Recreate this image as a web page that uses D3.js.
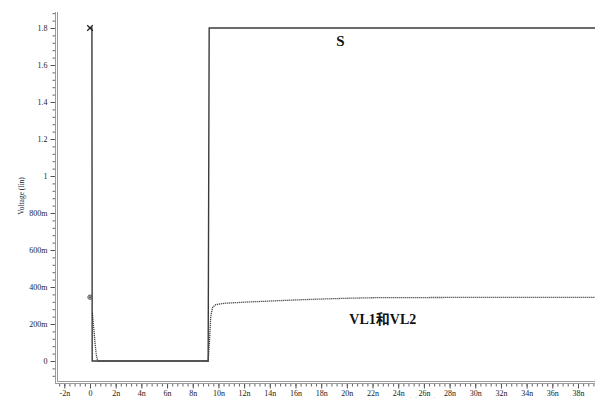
<!DOCTYPE html>
<html>
<head>
<meta charset="utf-8">
<script src="https://cdn.jsdelivr.net/npm/d3@7"></script>
<style>
  body { margin: 0; background: #fff; }
  text { font-family: "Liberation Serif", "DejaVu Serif", serif; }
</style>
</head>
<body>
<div id="chart"></div>
<script>
// time in ns, voltage in V
var s_time = [0, 0.15, 0.17, 9.2, 9.28, 39.6];
var s_volt = [1.8, 1.8, 0, 0, 1.8, 1.8];

var vl_time = [0.18, 0.3, 0.4, 0.5, 0.6, 9.2, 9.3, 9.4, 9.55, 9.8, 10.5, 12, 14, 16, 18, 20, 22, 26, 30, 34, 39.6];
var vl_volt = [0.26, 0.17, 0.09, 0.03, 0.0, 0.0, 0.1, 0.24, 0.29, 0.305, 0.312, 0.318, 0.324, 0.33, 0.335, 0.339, 0.342, 0.343, 0.344, 0.344, 0.344];

var y_ticks = [0, 0.2, 0.4, 0.6, 0.8, 1, 1.2, 1.4, 1.6, 1.8];
var y_tick_labels = ["0", "200m", "400m", "600m", "800m", "1", "1.2", "1.4", "1.6", "1.8"];
var x_ticks = d3.range(-2, 39, 2);
var x_tick_labels = x_ticks.map(function(d) { return d === 0 ? "0" : d + "n"; });

var width = 595, height = 398;
var x = d3.scaleLinear().domain([0, 38]).range([90, 578]);
var y = d3.scaleLinear().domain([0, 1.8]).range([361, 28]);

var axisX = 56, axisY = 382;
var topY = 12, rightX = 595;

var svg = d3.select("#chart").append("svg")
    .attr("width", width).attr("height", height);

// frame: double gray lines
svg.append("line").attr("x1", axisX - 0.5).attr("x2", axisX - 0.5).attr("y1", topY).attr("y2", axisY + 2)
    .attr("stroke", "#9a9a9a").attr("stroke-width", 1);
svg.append("line").attr("x1", axisX + 1.5).attr("x2", axisX + 1.5).attr("y1", topY).attr("y2", axisY)
    .attr("stroke", "#9a9a9a").attr("stroke-width", 1);
svg.append("line").attr("x1", axisX - 0.5).attr("x2", rightX).attr("y1", axisY + 1.5).attr("y2", axisY + 1.5)
    .attr("stroke", "#9a9a9a").attr("stroke-width", 1);
svg.append("line").attr("x1", axisX + 1.5).attr("x2", rightX).attr("y1", axisY - 0.5).attr("y2", axisY - 0.5)
    .attr("stroke", "#9a9a9a").attr("stroke-width", 1);

// y axis
var yMinor = d3.range(-0.08, 1.9, 0.04).filter(function(v) { return y(v) >= topY && y(v) <= axisY; });
svg.append("g").attr("transform", "translate(" + (axisX - 1) + ",0)")
    .call(d3.axisLeft(y).tickValues(yMinor).tickSize(2.5).tickFormat(""))
    .call(function(g) { g.select(".domain").remove(); g.selectAll("line").attr("stroke", "#666"); });
svg.append("g").attr("transform", "translate(" + (axisX - 1) + ",0)")
    .call(d3.axisLeft(y).tickValues(y_ticks).tickSize(4.5).tickPadding(3)
        .tickFormat(function(d, i) { return y_tick_labels[i]; }))
    .call(function(g) {
        g.select(".domain").remove();
        g.selectAll("line").attr("stroke", "#555");
        g.selectAll("text").attr("font-family", "Liberation Serif").attr("font-size", 8).attr("fill", "#222");
    });

// x axis
var xMinor = d3.range(-2.4, 39.6, 0.4).filter(function(v) { return x(v) >= axisX + 2 && x(v) <= rightX; });
svg.append("g").attr("transform", "translate(0," + (axisY + 2) + ")")
    .call(d3.axisBottom(x).tickValues(xMinor).tickSize(2.5).tickFormat(""))
    .call(function(g) { g.select(".domain").remove(); g.selectAll("line").attr("stroke", "#666"); });
svg.append("g").attr("transform", "translate(0," + (axisY + 2) + ")")
    .call(d3.axisBottom(x).tickValues(x_ticks).tickSize(4.5).tickPadding(2)
        .tickFormat(function(d, i) { return x_tick_labels[i]; }))
    .call(function(g) {
        g.select(".domain").remove();
        g.selectAll("line").attr("stroke", "#555");
        g.selectAll("text").attr("font-family", "Liberation Serif").attr("font-size", 8).attr("fill", "#222");
    });

// axis titles
svg.append("text")
    .attr("transform", "translate(24,196) rotate(-90)")
    .attr("text-anchor", "middle")
    .attr("font-size", 7.5)
    .attr("fill", "#222")
    .text("Voltage (lin)");
svg.append("text")
    .attr("x", 410).attr("y", 402)
    .attr("text-anchor", "middle")
    .attr("font-size", 7)
    .attr("fill", "#333")
    .text("Time (lin) (TIME)");

// series
var line = d3.line()
    .x(function(d) { return x(d[0]); })
    .y(function(d) { return y(d[1]); });

var vlData = vl_time.map(function(t, i) { return [t, vl_volt[i]]; });
var sData = s_time.map(function(t, i) { return [t, s_volt[i]]; });

svg.append("path").datum(vlData)
    .attr("d", line)
    .attr("fill", "none")
    .attr("stroke", "#444")
    .attr("stroke-width", 1.3)
    .attr("stroke-dasharray", "1.2,0.8");

svg.append("path").datum(sData)
    .attr("d", line)
    .attr("fill", "none")
    .attr("stroke", "#3a3a3a")
    .attr("stroke-width", 1.4);

// markers at t=0
svg.append("path")
    .attr("transform", "translate(" + x(0) + "," + y(1.8) + ")")
    .attr("d", d3.symbol(d3.symbolX, 22)())
    .attr("fill", "none").attr("stroke", "#222").attr("stroke-width", 1.3);
svg.append("circle")
    .attr("cx", x(0)).attr("cy", y(0.345)).attr("r", 2.2)
    .attr("fill", "none").attr("stroke", "#555").attr("stroke-width", 1);
svg.append("path")
    .attr("transform", "translate(" + x(0) + "," + y(0.345) + ")")
    .attr("d", d3.symbol(d3.symbolCross, 6)())
    .attr("fill", "#555");

// annotations
svg.append("text")
    .attr("x", x(19.5)).attr("y", 46)
    .attr("text-anchor", "middle")
    .attr("font-size", 15).attr("font-weight", "bold").attr("fill", "#111")
    .text("S");
svg.append("text")
    .attr("x", x(22.8)).attr("y", 324)
    .attr("text-anchor", "middle")
    .attr("font-size", 14).attr("font-weight", "bold").attr("fill", "#111")
    .style("font-family", "'Liberation Serif', 'Noto Sans CJK SC', serif")
    .text("VL1和VL2");
</script>
</body>
</html>
